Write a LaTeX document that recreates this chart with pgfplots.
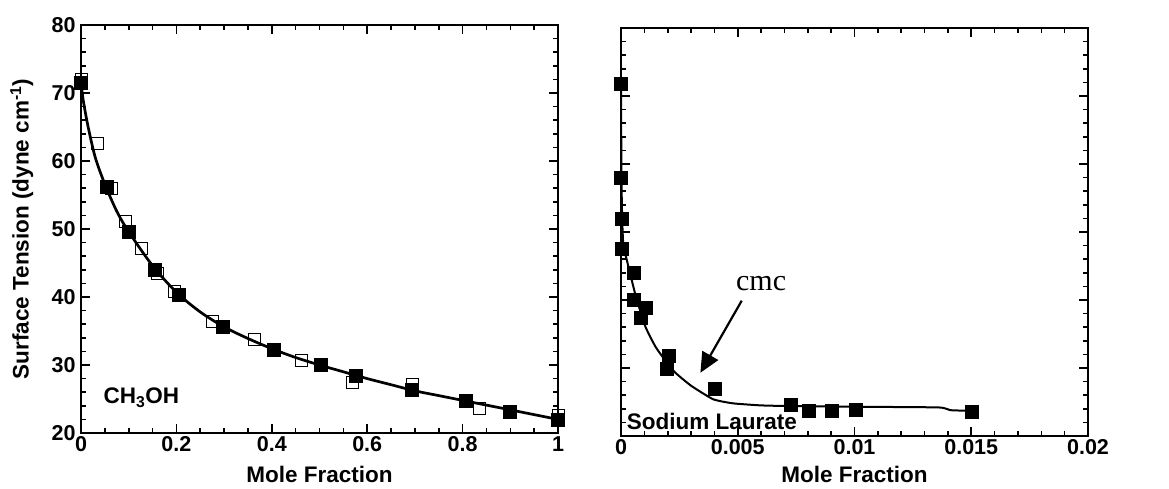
\documentclass[border=0pt]{standalone}
\usepackage{fontspec}
\setmainfont{Liberation Sans}
\newfontfamily\timesfont{Liberation Serif}
\usepackage{pgfplots}
\pgfplotsset{compat=1.18}
\usetikzlibrary{arrows.meta}

\newcommand{\lblfont}{\fontsize{22.5}{27}\selectfont\bfseries}
\newcommand{\tickfont}{\fontsize{21.5}{26}\selectfont\bfseries}
\pgfplotsset{panel/.style={
  scale only axis, clip=false, height=408pt,
  ymin=20, ymax=80, ytick={20,30,40,50,60,70,80}, minor y tick num=4,
  tick align=inside, major tick length=9pt, minor tick length=5pt,
  tick style={line width=1.6pt, black},
  axis line style={line width=2.2pt},
  tick label style={font=\tickfont},
  label style={font=\lblfont},
  /pgf/number format/assume math mode=true,
  scaled x ticks=false,
  yticklabel style={xshift=-2pt},
  xlabel={Mole Fraction},
}}

\begin{document}
\begin{tikzpicture}
\useasboundingbox (0,0) rectangle (1169pt,489pt);

% left: methanol
\begin{axis}[panel, at={(81pt,56pt)}, anchor=south west, width=477pt,
  xmin=0, xmax=1, xtick={0,0.2,0.4,0.6,0.8,1}, xticklabels={0,0.2,0.4,0.6,0.8,1},
  minor x tick num=3,
  xlabel style={at={(axis description cs:0.5,-0.122)}, anchor=base},
  ylabel={Surface Tension (dyne cm\textsuperscript{-1})},
  ylabel style={at={(axis description cs:-0.124,0.5)}, anchor=center}]
\addplot[only marks, mark=square, mark size=6pt, mark options={line width=1pt, draw=black, fill=white}]
 coordinates {(0,72) (0.034,62.6) (0.064,56.0) (0.094,51.1) (0.127,47.2) (0.16,43.5)
  (0.197,40.8) (0.275,36.4) (0.363,33.7) (0.463,30.7) (0.57,27.4) (0.695,27.2)
  (0.836,23.6) (1.0,22.6)};
\addplot[line width=2.7pt, smooth, tension=0.5] coordinates {
 (0,71.5) (0.005,68.8) (0.015,65) (0.03,60.5) (0.05,56.6) (0.075,52.6) (0.1,49.6)
 (0.15,44.6) (0.2,40.7) (0.25,37.8) (0.3,35.6) (0.35,33.9) (0.4,32.4) (0.45,31.1)
 (0.5,30.0) (0.55,29.0) (0.6,28.0) (0.65,27.1) (0.7,26.2) (0.75,25.5) (0.8,24.8)
 (0.85,24.1) (0.9,23.4) (0.95,22.7) (1.0,22.0)};
\addplot[only marks, mark=square*, mark size=6.5pt, mark options={draw=black, fill=black}]
 coordinates {(0,71.5) (0.054,56.2) (0.099,49.6) (0.155,44.0) (0.204,40.4) (0.298,35.6)
  (0.403,32.2) (0.503,30.0) (0.576,28.4) (0.693,26.3) (0.806,24.75) (0.898,23.2) (0.999,22.0)};
\node[anchor=west, font=\lblfont] at (axis cs:0.04,25.2) {CH\textsubscript{3}OH};
\end{axis}

% right: sodium laurate
\begin{axis}[panel, at={(621pt,53pt)}, anchor=south west, width=467pt,
  xmin=0, xmax=0.02, xtick={0,0.005,0.01,0.015,0.02},
  xticklabels={0,0.005,0.01,0.015,0.02}, minor x tick num=4,
  xlabel style={at={(axis description cs:0.5,-0.114)}, anchor=base},
  yticklabels={}]
\addplot[line width=2pt, smooth, tension=0.3] coordinates {
 (0,71.5) (0.00002,58) (0.00005,52) (0.0001,48) (0.00024,46) (0.0006,41) (0.00103,36.2)
 (0.0015,33) (0.00224,29.6) (0.003,27.4) (0.00395,25.4) (0.0048,24.8) (0.006,24.5)
 (0.00724,24.4) (0.01,24.3) (0.0136,24.2) (0.0141,23.8) (0.015,23.7)};
\addplot[only marks, mark=square*, mark size=6.5pt, mark options={draw=black, fill=black}]
 coordinates {(0,71.8) (0,58.0) (0.00002,52.0) (0.00003,47.6) (0.00053,44.0) (0.00053,40.0)
  (0.00106,38.8) (0.00084,37.4) (0.00206,31.8) (0.00196,29.9) (0.00403,26.9)
  (0.00727,24.6) (0.00803,23.7) (0.00903,23.7) (0.01003,23.9) (0.015,23.6)};
\node[anchor=west, font=\lblfont] at (axis cs:0.0001,22.2) {Sodium Laurate};
\node[font=\timesfont\fontsize{30}{35}\selectfont] at (axis cs:0.006,42.4) {cmc};
\draw[line width=2.2pt, -{Triangle[length=20pt, width=18pt]}] (axis cs:0.00517,39.9) -- (axis cs:0.0034,29.3);
\end{axis}
\end{tikzpicture}
\end{document}
